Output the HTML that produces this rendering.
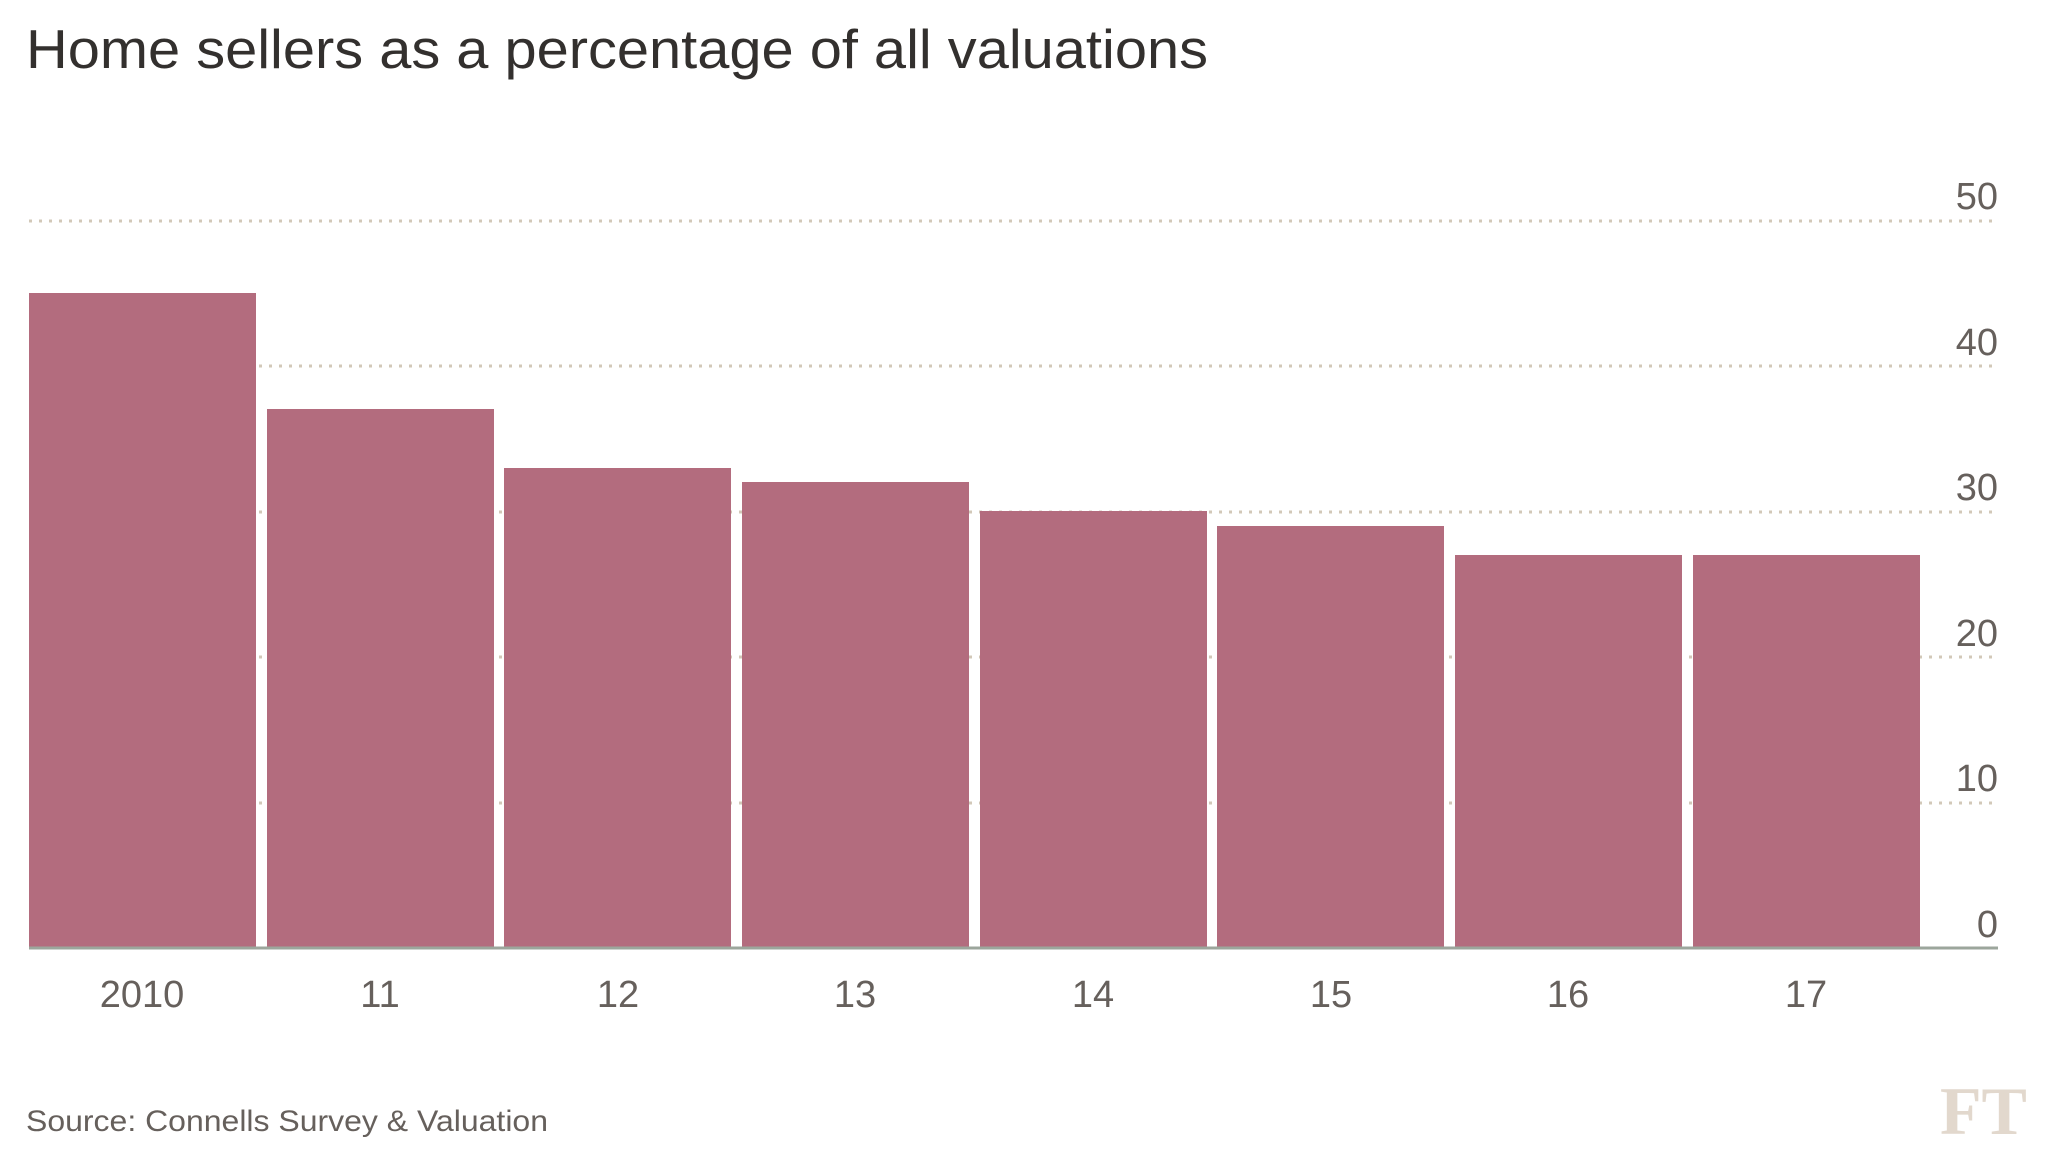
<!DOCTYPE html>
<html><head><meta charset="utf-8"><style>
html,body{margin:0;padding:0;background:#fff;}
svg{display:block;}
</style></head><body>
<svg width="2048" height="1152" viewBox="0 0 2048 1152" xmlns="http://www.w3.org/2000/svg">
<rect width="2048" height="1152" fill="#fff"/>
<text x="26" y="68" font-family="Liberation Sans, sans-serif" font-size="55" fill="#33302e" textLength="1182" lengthAdjust="spacingAndGlyphs">Home sellers as a percentage of all valuations</text>
<g stroke="#d2c8b8" stroke-width="3" stroke-dasharray="3,7">
<line x1="29" x2="1996" y1="221" y2="221"/>
<line x1="29" x2="1996" y1="366" y2="366"/>
<line x1="29" x2="1996" y1="512" y2="512"/>
<line x1="29" x2="1996" y1="657" y2="657"/>
<line x1="29" x2="1996" y1="803" y2="803"/>
</g>
<g fill="#b36c7e">
<rect x="29" y="293" width="227" height="655"/>
<rect x="267" y="409" width="227" height="539"/>
<rect x="504" y="468" width="227" height="480"/>
<rect x="742" y="482" width="227" height="466"/>
<rect x="980" y="511" width="227" height="437"/>
<rect x="1217" y="526" width="227" height="422"/>
<rect x="1455" y="555" width="227" height="393"/>
<rect x="1693" y="555" width="227" height="393"/>
</g>
<line x1="29" x2="1998" y1="948" y2="948" stroke="#9ca69c" stroke-width="3"/>
<g font-family="Liberation Sans, sans-serif" font-size="38" fill="#66605c" text-anchor="end">
<text x="1998" y="209">50</text>
<text x="1998" y="355">40</text>
<text x="1998" y="500">30</text>
<text x="1998" y="646">20</text>
<text x="1998" y="791">10</text>
<text x="1998" y="937">0</text>
</g>
<g font-family="Liberation Sans, sans-serif" font-size="38" fill="#66605c" text-anchor="middle">
<text x="142" y="1007">2010</text>
<text x="380" y="1007">11</text>
<text x="618" y="1007">12</text>
<text x="855" y="1007">13</text>
<text x="1093" y="1007">14</text>
<text x="1331" y="1007">15</text>
<text x="1568" y="1007">16</text>
<text x="1806" y="1007">17</text>
</g>
<text x="26" y="1131" font-family="Liberation Sans, sans-serif" font-size="30" fill="#66605c" textLength="522" lengthAdjust="spacingAndGlyphs">Source: Connells Survey &amp; Valuation</text>
<text x="1940" y="1134" font-family="Liberation Serif, serif" font-size="68" font-weight="bold" fill="#e2d8cd">FT</text>
</svg>
</body></html>
